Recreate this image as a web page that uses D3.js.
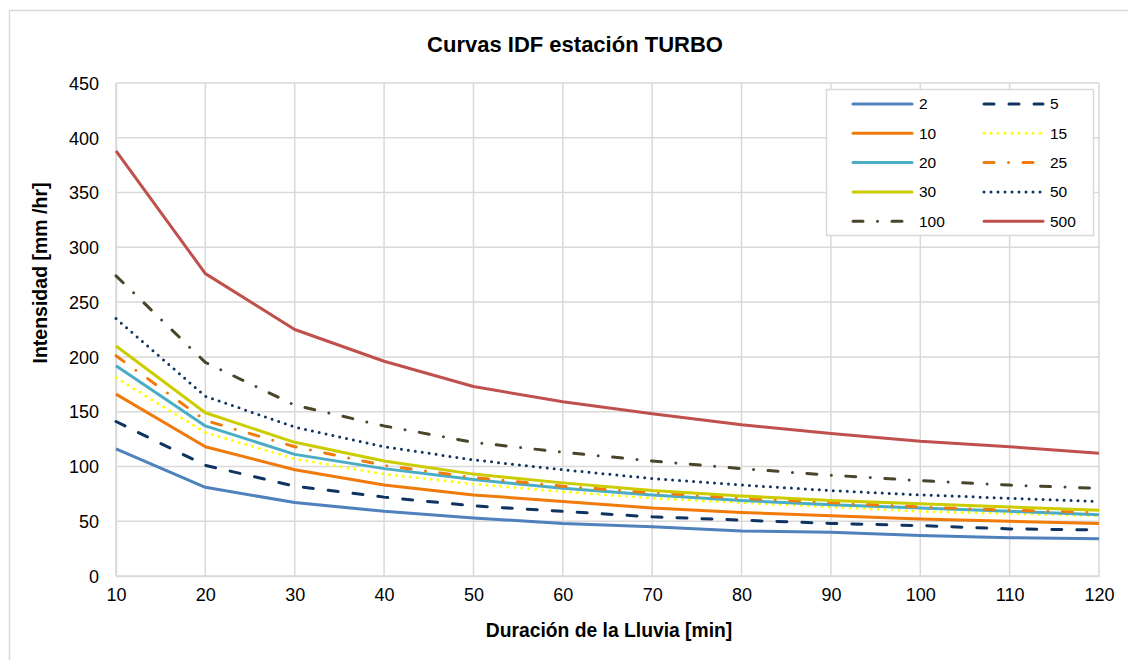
<!DOCTYPE html>
<html>
<head>
<meta charset="utf-8">
<script src="https://cdn.jsdelivr.net/npm/d3@7"></script>
<style>
  body { margin: 0; background: #fff; }
  svg { display: block; font-family: "Liberation Sans", Arial, sans-serif; }
</style>
</head>
<body>
<div id="chart"></div>
<script>
// data ------------------------------------------------------------------------------------------
const durations = [10, 20, 30, 40, 50, 60, 70, 80, 90, 100, 110, 120];
const returnPeriods = ['2', '5', '10', '15', '20', '25', '30', '50', '100', '500'];

const tr2   = [116, 81, 67, 59, 53, 48, 45, 41, 40, 37, 35, 34];
const tr5   = [141, 101, 82, 72, 64, 59, 54, 51, 48, 46, 43, 42];
const tr10  = [166, 118, 97, 83, 74, 68, 62, 58, 55, 52, 50, 48];
const tr15  = [181, 131, 107, 93, 84, 77, 71, 67, 63, 59, 57, 55];
const tr20  = [192, 137, 111, 98, 88, 80, 74, 69, 65, 62, 59, 56];
const tr25  = [201, 142, 118, 101, 90, 82, 76, 71, 67, 63, 60, 58];
const tr30  = [210, 149, 122, 105, 93, 85, 78, 73, 69, 66, 63, 60];
const tr50  = [235, 164, 136, 118, 106, 97, 89, 83, 78, 74, 71, 68];
const tr100 = [274, 195, 156, 137, 122, 113, 105, 98, 92, 87, 83, 80];
const tr500 = [388, 276, 225, 196, 173, 159, 148, 138, 130, 123, 118, 112];

const yTicks = [0, 50, 100, 150, 200, 250, 300, 350, 400, 450];

const seriesValues = [tr2, tr5, tr10, tr15, tr20, tr25, tr30, tr50, tr100, tr500];

// line styles per return period
const styles = {
    '2':   { color: '#4F81BD', dash: null },
    '5':   { color: '#0F3461', dash: '10 15' },
    '10':  { color: '#F07A0A', dash: null },
    '15':  { color: '#FFFF00', dash: '0 7' },
    '20':  { color: '#4BACC6', dash: null },
    '25':  { color: '#F07A0A', dash: '10 14.5 0 14.5' },
    '30':  { color: '#CCCC00', dash: null },
    '50':  { color: '#0F3461', dash: '0 7' },
    '100': { color: '#4A452A', dash: '10 14.5 0 14.5' },
    '500': { color: '#C0504D', dash: null }
};

// chart -----------------------------------------------------------------------------------------
const width = 1128;
const height = 660;
const margin = { top: 83, right: 29, bottom: 84, left: 116 };

const svg = d3.select('#chart')
    .append('svg')
    .attr('width', width)
    .attr('height', height);

// outer chart frame (runs off the right and bottom edges)
svg.append('rect')
    .attr('x', 9.5)
    .attr('y', 10.5)
    .attr('width', width)
    .attr('height', height)
    .attr('fill', 'none')
    .attr('stroke', '#d9d9d9')
    .attr('stroke-width', 1.5);

const xScale = d3.scaleLinear()
    .domain([10, 120])
    .range([margin.left, width - margin.right]);

const yScale = d3.scaleLinear()
    .domain([0, 450])
    .range([height - margin.bottom, margin.top]);

// grid
const grid = svg.append('g').attr('stroke', '#d9d9d9').attr('stroke-width', 1.5);
grid.selectAll('.hgrid')
    .data(yTicks)
    .join('line')
    .attr('x1', margin.left).attr('x2', width - margin.right)
    .attr('y1', d => yScale(d)).attr('y2', d => yScale(d));
grid.selectAll('.vgrid')
    .data(durations)
    .join('line')
    .attr('x1', d => xScale(d)).attr('x2', d => xScale(d))
    .attr('y1', margin.top).attr('y2', height - margin.bottom);

// axes
const xAxis = svg.append('g')
    .attr('transform', `translate(0,${height - margin.bottom})`)
    .call(d3.axisBottom(xScale).tickValues(durations).tickSize(0).tickPadding(12));
const yAxis = svg.append('g')
    .attr('transform', `translate(${margin.left},0)`)
    .call(d3.axisLeft(yScale).tickValues(yTicks).tickSize(0).tickPadding(17));

[xAxis, yAxis].forEach(ax => {
    ax.select('.domain').attr('stroke', '#d9d9d9').attr('stroke-width', 1.5);
    ax.selectAll('text')
        .attr('font-family', '"Liberation Sans", Arial, sans-serif')
        .attr('font-size', 18)
        .attr('fill', '#000');
});
yAxis.selectAll('text').attr('dy', '0.35em');

// lines
const line = d3.line()
    .x((d, i) => xScale(durations[i]))
    .y(d => yScale(d));

const series = returnPeriods.map((key, i) => ({ key, values: seriesValues[i] }));

svg.append('g')
    .selectAll('path')
    .data(series)
    .join('path')
    .attr('fill', 'none')
    .attr('stroke', d => styles[d.key].color)
    .attr('stroke-width', 3)
    .attr('stroke-linecap', d => styles[d.key].dash ? 'round' : 'butt')
    .attr('stroke-linejoin', 'round')
    .attr('stroke-dasharray', d => styles[d.key].dash)
    .attr('d', d => line(d.values));

// legend
const legend = svg.append('g').attr('transform', 'translate(826,89)');
legend.append('rect')
    .attr('x', 0.5).attr('y', 0.5)
    .attr('width', 267).attr('height', 146)
    .attr('fill', '#fff')
    .attr('stroke', '#d9d9d9')
    .attr('stroke-width', 1.5);

const items = legend.selectAll('.item')
    .data(series)
    .join('g')
    .attr('transform', (d, i) => `translate(${(i % 2) * 131},${15 + Math.floor(i / 2) * 29.3})`);

items.append('line')
    .attr('x1', 27).attr('x2', 86)
    .attr('stroke', d => styles[d.key].color)
    .attr('stroke-width', 3)
    .attr('stroke-linecap', 'round')
    .attr('stroke-dasharray', d => styles[d.key].dash);

items.append('text')
    .attr('x', 93)
    .attr('dy', '0.35em')
    .attr('font-size', 15.5)
    .text(d => d.key);

// titles
svg.append('text')
    .attr('x', 575).attr('y', 52)
    .attr('text-anchor', 'middle')
    .attr('font-size', 22)
    .attr('font-weight', 'bold')
    .text('Curvas IDF estación TURBO');

svg.append('text')
    .attr('x', 609).attr('y', 637)
    .attr('text-anchor', 'middle')
    .attr('font-size', 19.3)
    .attr('font-weight', 'bold')
    .text('Duración de la Lluvia [min]');

svg.append('text')
    .attr('transform', 'translate(47,273) rotate(-90)')
    .attr('text-anchor', 'middle')
    .attr('font-size', 19.5)
    .attr('font-weight', 'bold')
    .text('Intensidad [mm /hr]');
</script>
</body>
</html>
